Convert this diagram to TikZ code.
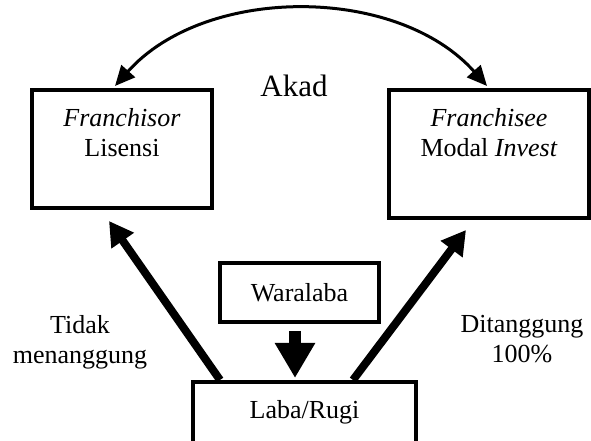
\documentclass[tikz,border=0pt]{standalone}
\usepackage{fontspec}
\setmainfont{Liberation Serif}
\usetikzlibrary{calc,arrows.meta}

\begin{document}
\begin{tikzpicture}[x=1pt,y=1pt,
  box/.style={draw,line width=4pt,inner sep=0pt},
  txt/.style={inner sep=0pt,align=center,font=\fontsize{26}{30}\selectfont},
  fat/.style={line width=8pt,-{Triangle[width=26pt,length=24pt]}},
  akadarrow/.style={line width=3pt,{Triangle[width=18pt,length=20pt]}-{Triangle[width=18pt,length=20pt]}}]
\useasboundingbox (0,0) rectangle (591,441);

\node[box,minimum width=180pt,minimum height=118pt] (fr) at (122,292) {};
\node[box,minimum width=200pt,minimum height=128pt] (fe) at (489,287) {};
\node[box,minimum width=159pt,minimum height=59pt] (wl) at (299.5,148.5) {};
\node[box,minimum width=223pt,minimum height=100pt] (lr) at (304.5,9) {};

\node[txt,anchor=north] (frt) at ($(fr.north)+(0,-20)$) {\textit{Franchisor}\\Lisensi};
\node[txt,anchor=north] (fet) at ($(fe.north)+(0,-20)$) {\textit{Franchisee}\\Modal \textit{Invest}};
\node[txt] (wlt) at (wl.center) {Waralaba};
\node[txt,anchor=north] (lrt) at ($(lr.north)+(0,-20)$) {Laba/Rugi};

\node[txt,anchor=north,font=\fontsize{31}{36}\selectfont] (akad) at (294,366) {Akad};
\node[txt,anchor=north] (tidak) at (80,126) {Tidak\\menanggung};
\node[txt,anchor=north] (ditanggung) at (522,126) {Ditanggung\\100\%};

% akad
\draw[akadarrow] ($(fr.north)+(-7,2)$) .. controls +(90,101) and +(-90,101) .. ($(fe.north)+(-2,2)$);

% laba/rugi
\draw[fat] ($(lr.north)+(-84.5,0)$) -- ($(fr.south)+(-13,-11)$);
\draw[fat] ($(lr.north)+(48.5,0)$) -- ($(fe.south)+(-23,-10)$);
\draw[line width=12pt,-{Triangle[width=38pt,length=35pt]},shorten <=7pt,shorten >=2pt]
  ($(wl.south)+(-4.5,0)$) -- ($(lr.north)+(-9.5,0)$);
\end{tikzpicture}
\end{document}
